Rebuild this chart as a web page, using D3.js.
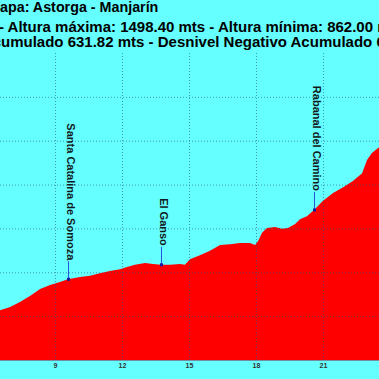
<!DOCTYPE html>
<html><head><meta charset="utf-8">
<script src="https://cdn.jsdelivr.net/npm/d3@7"></script>
<style>html,body{margin:0;padding:0;background:#66ffff;overflow:hidden}svg{display:block}</style>
</head><body><svg id="c" width="379" height="379"></svg>
<script>
// Distance (km) and elevation (m) read from the profile
const km = [6.5, 6.99, 7.43, 7.88, 8.33, 8.78, 9.22, 9.58, 10.12, 10.57, 11.01, 11.46, 11.91, 12.22, 12.58, 13.03, 13.39, 13.75, 14.15, 14.6, 14.82, 15.04, 15.49, 15.94, 16.39, 16.84, 17.28, 17.73, 17.96, 18.09, 18.27, 18.49, 18.85, 19.16, 19.43, 19.75, 19.97, 20.28, 20.6, 21.0, 21.45, 21.9, 22.34, 22.75, 22.97, 23.19, 23.55];
const elevation = [913, 921, 932, 946, 962, 971, 978, 984, 989, 992, 998, 1003, 1007, 1012, 1017, 1021, 1019, 1017, 1017, 1019, 1017, 1030, 1039, 1049, 1062, 1064, 1067, 1067, 1062, 1071, 1090, 1101, 1103, 1099, 1101, 1110, 1121, 1128, 1142, 1163, 1181, 1194, 1208, 1226, 1256, 1272, 1287];
const xTicks = [9, 12, 15, 18, 21];
const yGrid = [900, 1000, 1100, 1200, 1300, 1400];
const towns = ["Santa Catalina de Somoza", "El Ganso", "Rabanal del Camino"];
const townKm = [9.58, 13.75, 20.6];
const townElev = [984, 1017, 1142];
const titlePrefixes = ["Et", "", "Desnivel Positivo Ac"];
const titleLines = ["Etapa: Astorga - Manjarín",
  "- Altura máxima: 1498.40 mts - Altura mínima: 862.00 mts",
  "Desnivel Positivo Acumulado 631.82 mts - Desnivel Negativo Acumulado 6"];

const W = 379, H = 379;
const svg = d3.select("#c");
const x = d3.scaleLinear().domain([9, 21]).range([55, 323]);
const y = d3.scaleLinear().domain([800, 1500]).range([360, 53]);
const FONT = "'Liberation Sans', Arial, Helvetica, sans-serif";

svg.append("rect").attr("width", W).attr("height", H).attr("fill", "#66ffff");

const data = km.map((k, i) => ({k, e: elevation[i]}));
const area = d3.area().x(d => x(d.k)).y0(y(800)).y1(d => y(d.e));
svg.append("path").datum(data).attr("d", area).attr("fill", "#ff0000");

// grid via axes
const gx = svg.append("g").attr("transform", `translate(0,${y(800)})`)
  .call(d3.axisBottom(x).tickValues(xTicks).tickSize(-(y(800) - y(1500))).tickPadding(3).tickFormat(d3.format("d")));
const gy = svg.append("g").attr("transform", "translate(0,0)")
  .call(d3.axisLeft(y).tickValues(yGrid).tickSize(-W).tickFormat(""));
[gx, gy].forEach(g => {
  g.select(".domain").remove();
  g.selectAll(".tick line").attr("stroke", "#225588").attr("stroke-opacity", 0.6).attr("stroke-dasharray", "1,2");
});
gx.selectAll(".tick text").attr("font-family", FONT).attr("font-size", 7).attr("font-weight", "bold").attr("fill", "#333");
svg.append("line").attr("x1", 0).attr("x2", W).attr("y1", y(800) + 0.5).attr("y2", y(800) + 0.5)
  .attr("stroke", "#7a4060").attr("stroke-opacity", 0.6);

// town markers
towns.forEach((t, i) => {
  const px = Math.round(x(townKm[i])) + 0.5, py = y(townElev[i]);
  svg.append("line").attr("x1", px).attr("x2", px).attr("y1", py).attr("y2", py - 18)
    .attr("stroke", "#2255dd").attr("stroke-width", 1);
  svg.append("rect").attr("x", px - 1.5).attr("y", py - 1.5).attr("width", 3).attr("height", 3).attr("fill", "#1a1a99");
  svg.append("text").attr("transform", `translate(${px - 1.5},${py - 19}) rotate(90)`)
    .attr("text-anchor", "end").attr("font-family", FONT).attr("font-weight", "bold")
    .attr("font-size", 11).attr("fill", "#101820").text(t);
});

// title lines (partly outside the visible window, as in the reference)
const baselines = [12, 32, 47];
const starts = [0, -1, 1];
const sizes = [14.3, 15, 15];
titleLines.forEach((s, i) => {
  const t = svg.append("text").attr("y", baselines[i]).attr("font-family", FONT)
    .attr("font-weight", "bold").attr("font-size", sizes[i]).attr("fill", "#000").text(s);
  const pw = titlePrefixes[i].length ? t.node().getSubStringLength(0, titlePrefixes[i].length) : 0;
  t.attr("x", starts[i] - pw);
});
</script></body></html>
